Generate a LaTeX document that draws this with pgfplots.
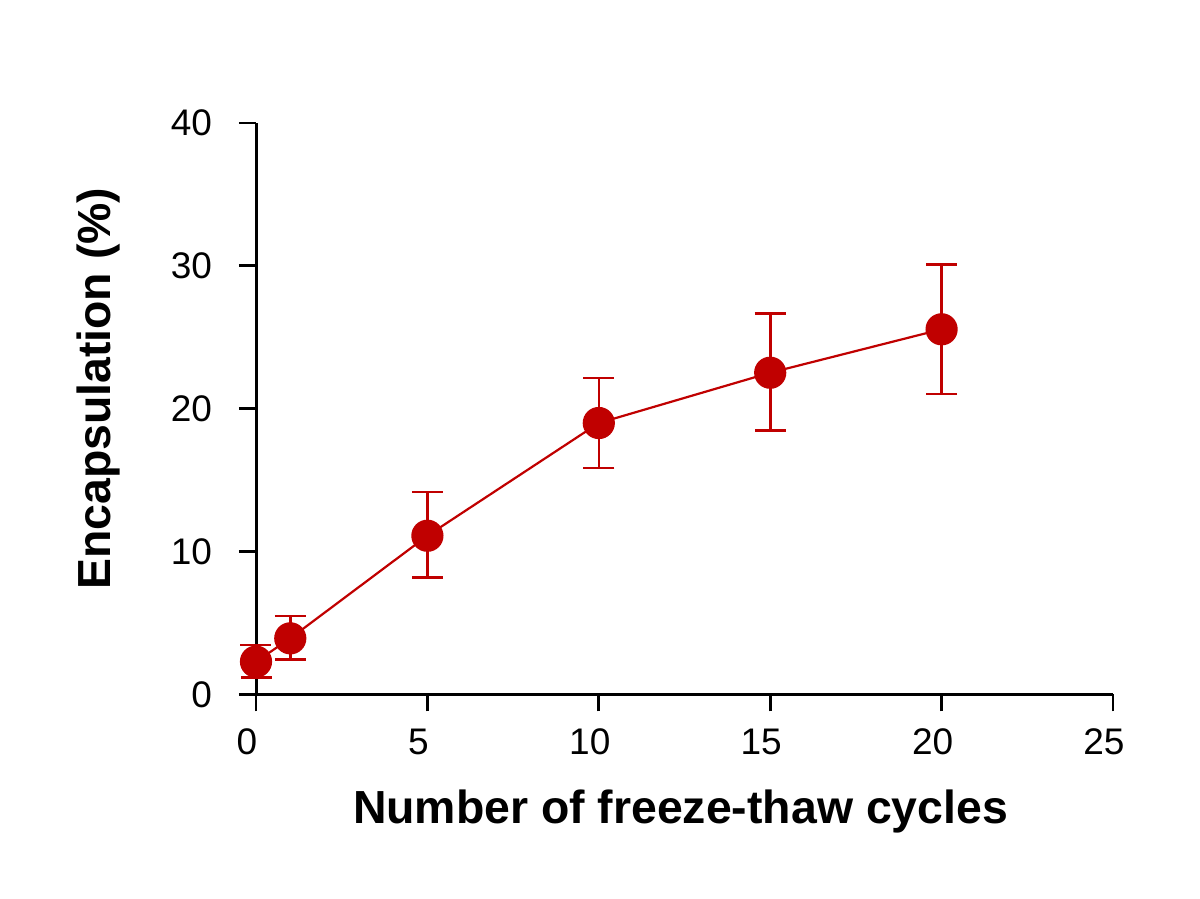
\documentclass[border=0pt]{standalone}
\usepackage{pgfplots}
\pgfplotsset{compat=1.18}
\usepackage{fontspec}
\setmainfont{Liberation Sans}
\definecolor{dred}{HTML}{C00000}

\begin{document}
\begin{tikzpicture}
\path[use as bounding box] (0,0) rectangle (600pt,449.5pt);
\begin{axis}[
    at={(128pt,102.25pt)}, anchor=origin,
    scale only axis,
    width=428.5pt, height=285.75pt,
    xmin=0, xmax=25, ymin=0, ymax=40,
    xtick={0,5,...,25}, ytick={0,10,...,40},
    axis lines*=left,
    axis line style={line width=1.5pt, -},
    every tick/.style={black, line width=1.4pt},
    every major tick/.style={black, line width=1.4pt},
    tick align=outside,
    major tick length=8.5pt,
    /pgf/number format/assume math mode=true,
    ticklabel style={font=\fontsize{18.5}{22}\selectfont},
    yticklabel style={xshift=-10pt},
    xticklabel style={yshift=-5pt, xshift=-4.5pt},
    label style={font=\fontsize{23.2}{27}\selectfont\bfseries},
    xlabel={Number of freeze-thaw cycles},
    ylabel={Encapsulation (\%)},
    xlabel style={at={(rel axis cs:0.5,0)}, anchor=center, yshift=-58.75pt, xshift=-2pt},
    ylabel style={at={(rel axis cs:0,0.5)}, anchor=center, rotate=0, xshift=10pt, yshift=78.5pt},
    clip=false,
]
\addplot[
    dred, line width=1.1pt,
    mark=*, mark size=7.5pt, mark options={fill=dred, draw=dred},
    error bars/.cd,
    y dir=both, y explicit,
    error bar style={line width=1.3pt, dred},
    error mark options={rotate=90, mark size=7.75pt, line width=1.3pt, dred},
] table[x=x, y=y, y error plus=ep, y error minus=em] {
x   y      ep    em
0   2.30   1.16  1.12
1   3.93   1.56  1.47
5   11.11  3.06  2.93
10  19.00  3.15  3.15
15  22.52  4.16  4.06
20  25.56  4.54  4.53
};
\end{axis}
\end{tikzpicture}
\end{document}
